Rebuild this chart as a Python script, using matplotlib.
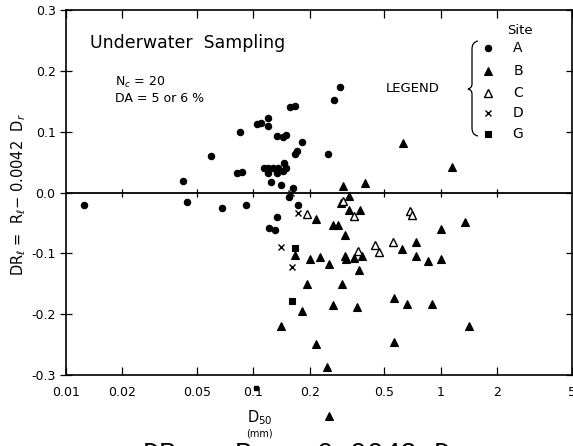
import matplotlib
matplotlib.use("Agg")
import matplotlib.pyplot as plt
from matplotlib.path import Path
from matplotlib.patches import PathPatch
from matplotlib.ticker import NullLocator

# D50 (mm) and DR_l values, one pair of lists per site
site_a_d50 = [0.0124, 0.0423, 0.0445, 0.0595, 0.0683, 0.0822, 0.0867, 0.0847, 0.0916,
              0.104, 0.110, 0.119, 0.119, 0.133, 0.144, 0.149, 0.157, 0.167, 0.166,
              0.172, 0.181, 0.114, 0.120, 0.127, 0.136, 0.145, 0.149, 0.120, 0.133,
              0.144, 0.124, 0.141, 0.163, 0.155, 0.173, 0.133, 0.121, 0.131, 0.290,
              0.271, 0.251]
site_a_dr = [-0.021, 0.019, -0.016, 0.060, -0.025, 0.032, 0.033, 0.099, -0.020,
             0.112, 0.115, 0.123, 0.109, 0.093, 0.091, 0.095, 0.141, 0.142, 0.064,
             0.068, 0.083, 0.040, 0.040, 0.040, 0.040, 0.048, 0.040, 0.032, 0.032,
             0.035, 0.018, 0.012, 0.008, -0.007, -0.020, -0.041, -0.059, -0.061, 0.173,
             0.152, 0.064]

site_b_d50 = [0.632, 1.153, 0.300, 0.396, 0.324, 0.294, 0.217, 0.325, 0.372, 0.267,
              0.284, 0.309, 1.353, 0.998, 0.738, 0.622, 0.380, 0.309, 0.314, 0.346,
              0.227, 0.201, 0.254, 0.738, 0.854, 1.007, 0.368, 0.166, 0.193, 0.299,
              0.565, 0.663, 0.895, 0.182, 0.265, 0.356, 1.416, 0.141, 0.217, 0.565,
              0.246, 0.254]
site_b_dr = [0.082, 0.042, 0.011, 0.016, -0.005, -0.018, -0.044, -0.028, -0.029, -0.053,
             -0.053, -0.070, -0.048, -0.060, -0.082, -0.093, -0.104, -0.105, -0.110, -0.108,
             -0.106, -0.110, -0.118, -0.105, -0.113, -0.109, -0.127, -0.102, -0.151, -0.150,
             -0.174, -0.183, -0.183, -0.194, -0.185, -0.188, -0.220, -0.219, -0.249, -0.245,
             -0.287, -0.368]

site_c_d50 = [0.302, 0.193, 0.346, 0.682, 0.703, 0.559, 0.448, 0.469, 0.361]
site_c_dr = [-0.014, -0.035, -0.038, -0.031, -0.037, -0.082, -0.086, -0.098, -0.096]

site_d_d50 = [0.158, 0.173, 0.141, 0.161]
site_d_dr = [0.000, -0.034, -0.089, -0.122]

site_g_d50 = [0.167, 0.160]
site_g_dr = [-0.091, -0.179]
# tiny square that sits inside the "0.1" tick label in the scan
stray_g_d50 = [0.103]
stray_g_dr = [-0.321]

x_ticks = [0.01, 0.02, 0.05, 0.1, 0.2, 0.5, 1, 2, 5]
x_tick_labels = ["0.01", "0.02", "0.05", "0.1", "0.2", "0.5", "1", "2", "5"]
y_ticks = [-0.3, -0.2, -0.1, 0.0, 0.1, 0.2, 0.3]
y_tick_labels = ["-0.3", "-0.2", "-0.1", "0.0", "0.1", "0.2", "0.3"]

legend_sites = ["A", "B", "C", "D", "G"]

plt.rcParams["font.family"] = ["DejaVu Sans"]
plt.rcParams["mathtext.fontset"] = "dejavusans"

W, H = 573, 446
fig = plt.figure(figsize=(W / 100, H / 100), dpi=100)
ax = fig.add_axes([66 / W, 1 - 375 / H, (571.7 - 66) / W, (375 - 10) / H])


def ax_xy(px, py):
    # pixel position in the picture -> axes fraction
    return (px - 66) / 505.7, (375 - py) / 365


styles = {
    "A": dict(marker="o", ms=4.6, mfc="black", mec="black", mew=0.8),
    "B": dict(marker="^", ms=5.6, mfc="black", mec="black", mew=0.8),
    "C": dict(marker="^", ms=5.6, mfc="white", mec="black", mew=1.0),
    "D": dict(marker="x", ms=4.5, mfc="none", mec="black", mew=1.0),
    "G": dict(marker="s", ms=4.8, mfc="black", mec="black", mew=0.8),
}

ax.plot(site_a_d50, site_a_dr, ls="none", clip_on=False, zorder=3, **styles["A"])
ax.plot(site_b_d50, site_b_dr, ls="none", clip_on=False, zorder=3, **styles["B"])
ax.plot(site_c_d50, site_c_dr, ls="none", clip_on=False, zorder=3, **styles["C"])
ax.plot(site_d_d50, site_d_dr, ls="none", clip_on=False, zorder=3, **styles["D"])
ax.plot(site_g_d50, site_g_dr, ls="none", clip_on=False, zorder=3, **styles["G"])
ax.plot(stray_g_d50, stray_g_dr, ls="none", marker="s", ms=2.6, color="black", clip_on=False)

# zero line with its own little tick marks
ax.axhline(0.0, color="black", lw=1.3, zorder=2)
ax.plot(x_ticks[1:-1], [0.0] * len(x_ticks[1:-1]), ls="none", marker="|", ms=6,
        mew=0.9, color="black", zorder=2)

ax.set_xscale("log")
ax.set_xlim(0.01, 5)
ax.set_ylim(-0.3, 0.3)
ax.set_xticks(x_ticks)
ax.set_xticklabels(x_tick_labels)
ax.xaxis.set_minor_locator(NullLocator())
ax.set_yticks(y_ticks)
ax.set_yticklabels(y_tick_labels)
ax.tick_params(axis="x", direction="in", top=True, length=6, width=0.9, labelsize=9, pad=8)
ax.tick_params(axis="y", direction="inout", right=True, length=9, width=0.9, labelsize=9, pad=3)
for s in ax.spines.values():
    s.set_linewidth(1.2)

# annotations inside the plot
tx, ty = ax_xy(90, 43)
ax.text(tx, ty, "Underwater  Sampling", transform=ax.transAxes, fontsize=12.5,
        ha="left", va="center")
tx, ty = ax_xy(115, 82)
ax.text(tx, ty, r"N$_c$ = 20", transform=ax.transAxes, fontsize=9, ha="left", va="center")
tx, ty = ax_xy(115, 99)
ax.text(tx, ty, "DA = 5 or 6 %", transform=ax.transAxes, fontsize=9, ha="left", va="center")
tx, ty = ax_xy(413, 89)
ax.text(tx, ty, "LEGEND", transform=ax.transAxes, fontsize=9.5, ha="center", va="center")
tx, ty = ax_xy(520, 31)
ax.text(tx, ty, "Site", transform=ax.transAxes, fontsize=9.5, ha="center", va="center")

row_y = [48, 71, 93, 113, 134]
for site, py in zip(legend_sites, row_y):
    mx, my = ax_xy(487.5, py)
    ax.plot([mx], [my], ls="none", transform=ax.transAxes, clip_on=False, **styles[site])
    lx, ly = ax_xy(518, py)
    ax.text(lx, ly, site, transform=ax.transAxes, fontsize=10, ha="center", va="center")

# curly brace in front of the legend rows
brace_px = [(478, 41), (472, 42), (472, 49), (472, 84), (472, 88), (468, 89),
            (472, 90), (472, 94), (472, 128), (472, 135), (478, 136)]
codes = [Path.MOVETO, Path.CURVE3, Path.CURVE3, Path.LINETO, Path.CURVE3, Path.CURVE3,
         Path.CURVE3, Path.CURVE3, Path.LINETO, Path.CURVE3, Path.CURVE3]
brace = Path([ax_xy(px, py) for px, py in brace_px], codes)
ax.add_patch(PathPatch(brace, transform=ax.transAxes, fc="none", ec="black", lw=0.9,
                       clip_on=False))

# axis titles
fig.text(19 / W, 1 - 194 / H, r"DR$_\ell$ =  R$_\ell$$-$ 0.0042  D$_r$", rotation=90,
         fontsize=10.5, ha="center", va="center")
fig.text(260 / W, 1 - 418 / H, r"D$_{50}$", fontsize=10.5, ha="center", va="center")
fig.text(259 / W, 1 - 433 / H, "(mm)", fontsize=7, ha="center", va="center")

# caption line cut off by the bottom edge of the scan
fig.text(142 / W, 1 - 442 / H, r"DR$_\ell$ = R$_\ell$ $-$ 0.0042 D$_r$",
         family="Liberation Mono", fontsize=20, ha="left", va="top")

fig.savefig("out.png", dpi=100)
